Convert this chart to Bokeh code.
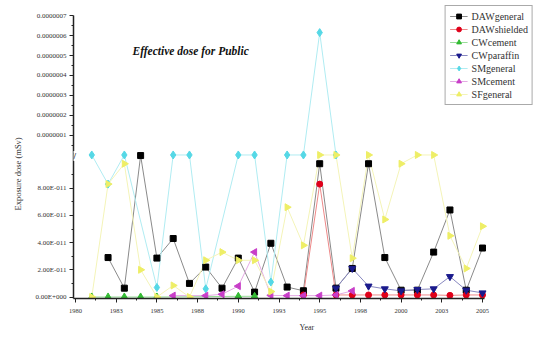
import math
from bokeh.plotting import figure
from bokeh.models import (Range1d, FixedTicker, Legend, LegendItem, Label, Title,
                          CustomJSTickFormatter)
from bokeh.embed import file_html
from bokeh.resources import INLINE

GAP = 1.5e-10  # values lying inside the axis break

years_daw_general = list(range(1982, 2006))
daw_general = [2.9e-11, 0.65e-11, 1.04e-10, 2.86e-11, 4.3e-11, 1.0e-11, 2.2e-11, 0.65e-11,
               2.86e-11, 0.36e-11, 3.95e-11, 0.73e-11, 0.46e-11, 9.8e-11, 0.65e-11, 2.1e-11,
               9.8e-11, 2.9e-11, 0.5e-11, 0.5e-11, 3.3e-11, 6.4e-11, 0.5e-11, 3.6e-11]

years_daw_shielded = list(range(1994, 2006))
daw_shielded = [0.15e-11, 8.3e-11, 0.15e-11, 0.15e-11, 0.15e-11, 0.15e-11, 0.15e-11,
                0.15e-11, 0.15e-11, 0.12e-11, 0.15e-11, 0.15e-11]

years_cw_cement = [1981, 1982, 1983, 1984, 1985, 1990, 1991]
cw_cement = [0.0, 0.0, 0.0, 0.0, 0.0, 0.05e-11, 0.05e-11]

years_cw_paraffin = list(range(1996, 2006))
cw_paraffin = [0.65e-11, 2.1e-11, 0.8e-11, 0.6e-11, 0.45e-11, 0.55e-11, 0.6e-11, 1.5e-11,
               0.5e-11, 0.3e-11]

years_sm_general = [1981, 1982, 1983, 1985, 1986, 1987, 1988, 1990, 1991, 1992, 1993, 1994, 1995, 1996]
sm_general = [GAP, 8.3e-11, GAP, 0.7e-11, GAP, GAP, 0.6e-11, GAP, GAP, 1.1e-11, GAP, GAP,
              6.15e-7, GAP]

years_sm_cement = [1986, 1988, 1989, 1990, 1991, 1992, 1993, 1994, 1995, 1996, 1997]
sm_cement = [0.1e-11, 0.1e-11, 0.2e-11, 0.8e-11, 3.3e-11, 0.12e-11, 0.1e-11, 0.1e-11,
             0.1e-11, 0.15e-11, 0.45e-11]

years_sf_general = list(range(1981, 2006))
sf_general = [0.0, 8.3e-11, 9.8e-11, 2.0e-11, 0.0, 0.85e-11, 0.0, 2.7e-11, 3.3e-11, 2.7e-11,
              2.7e-11, 0.4e-11, 6.6e-11, 3.8e-11, GAP, GAP, 2.85e-11, GAP, 5.7e-11, 9.8e-11,
              GAP, GAP, 4.5e-11, 2.1e-11, 5.2e-11]

x_ticks = [1980, 1982.5, 1985, 1987.5, 1990, 1992.5, 1995, 1997.5, 2000, 2002.5, 2005]
lower_tick_values = [0, 2e-11, 4e-11, 6e-11, 8e-11]
lower_tick_labels = ["0.00E+000", "2.00E-011", "4.00E-011", "6.00E-011", "8.00E-011"]
upper_tick_values = [1e-7, 2e-7, 3e-7, 4e-7, 5e-7, 6e-7, 7e-7]
upper_tick_labels = ["0.0000001", "0.0000002", "0.0000003", "0.0000004", "0.0000005",
                     "0.0000006", "0.0000007"]

# broken-axis scale: lower segment 0..LOW_MAX, upper segment starts at the break
LOW_UNIT = 27.2      # display units per 1e-11
BREAK = 284.0        # display position of the break
UP_UNIT = 39.8       # display units per 1e-7
LOW_MAX = BREAK / LOW_UNIT * 1e-11


def to_display(v):
    if v <= LOW_MAX:
        return v / 1e-11 * LOW_UNIT
    return BREAK + v / 1e-7 * UP_UNIT


PX_PER_YEAR = 16.28
x_start = 1980 - 2 / PX_PER_YEAR
x_end = 1980 + (533 - 75) / PX_PER_YEAR

p = figure(width=539, height=338, output_backend="svg", toolbar_location=None,
           x_range=Range1d(x_start, x_end), y_range=Range1d(-3, 583),
           min_border_left=73, min_border_right=6, min_border_top=5, min_border_bottom=40)
p.outline_line_color = None
p.xgrid.visible = False
p.ygrid.visible = False

font = "Liberation Serif"

series = [
    ("DAWgeneral", years_daw_general, daw_general, "#000000", "#8a8a8a", "square", 0.0, 6),
    ("DAWshielded", years_daw_shielded, daw_shielded, "#e0001a", "#ee8888", "circle", 0.0, 6),
    ("CWcement", years_cw_cement, cw_cement, "#33bb33", "#99dd99", "triangle", 0.0, 7),
    ("CWparaffin", years_cw_paraffin, cw_paraffin, "#1a1a8c", "#8888c0", "inverted_triangle", 0.0, 7),
    ("SMgeneral", years_sm_general, sm_general, "#55d8e6", "#b0ecf2", "diamond", 0.0, 8),
    ("SMcement", years_sm_cement, sm_cement, "#c83ec8", "#e4aae4", "triangle", math.pi / 2, 7),
    ("SFgeneral", years_sf_general, sf_general, "#eeee66", "#f4f4b8", "triangle", -math.pi / 2, 7),
]

line_rs = []
for name, xs, vs, col, lcol, mk, ang, sz in series:
    ys = [to_display(v) for v in vs]
    line_rs.append(p.line(xs, ys, line_color=lcol, line_width=1))

items = []
for (name, xs, vs, col, lcol, mk, ang, sz), lr in zip(series, line_rs):
    ys = [to_display(v) for v in vs]
    sr = p.scatter(xs, ys, marker=mk, angle=ang, size=sz, fill_color=col, line_color=col)
    items.append(LegendItem(label=name, renderers=[lr, sr]))

legend = Legend(items=items, location="top_right", margin=0, padding=4, spacing=1,
                label_text_font=font, label_text_font_size="10px", glyph_width=18,
                glyph_height=12, label_height=12, label_standoff=4,
                label_text_color="#333333",
                border_line_color="#555555", border_line_width=1.5)
p.add_layout(legend)

# x axis
p.xaxis.bounds = (x_start, 2005.15)
p.xaxis.ticker = FixedTicker(ticks=x_ticks,
                             minor_ticks=[t + 1.25 for t in x_ticks[:-1]])
p.xaxis.formatter = CustomJSTickFormatter(code="return Math.round(tick).toString();")

# y axis with break
y_major = [to_display(v) for v in lower_tick_values] + [to_display(v) for v in upper_tick_values]
y_minor = [to_display(v + 1e-11) for v in lower_tick_values] + \
          [to_display(v - 0.5e-7) for v in upper_tick_values]
p.yaxis.bounds = (-3, to_display(upper_tick_values[-1]))
p.yaxis.ticker = FixedTicker(ticks=y_major, minor_ticks=y_minor)
p.yaxis.major_label_overrides = {to_display(v): s for v, s in
                                 zip(lower_tick_values + upper_tick_values,
                                     lower_tick_labels + upper_tick_labels)}

for ax in (p.xaxis[0], p.yaxis[0]):
    ax.axis_line_width = 1.5
    ax.axis_line_color = "#222222"
    ax.major_tick_in = 0
    ax.major_tick_out = 4
    ax.minor_tick_in = 0
    ax.minor_tick_out = 2
    ax.major_tick_line_color = "#222222"
    ax.minor_tick_line_color = "#222222"
    ax.major_label_text_font = font
    ax.major_label_text_color = "#333333"
    ax.major_label_standoff = 3

p.yaxis.major_label_text_font_size = "7px"
p.xaxis.major_label_text_font_size = "6.5px"
p.xaxis.major_label_standoff = 6

p.add_layout(Title(text="Exposure dose (mSv)", align="left", offset=88, standoff=20,
                   text_font=font, text_font_size="8.5px", text_font_style="normal",
                   text_color="#333333"), "left")
p.add_layout(Title(text="Year", align="left", offset=226, standoff=10,
                   text_font=font, text_font_size="8px", text_font_style="normal",
                   text_color="#333333"), "below")

# break symbol on the y axis
p.add_layout(Label(x=x_start, y=BREAK - 2, text="//", text_font=font, text_font_size="9px",
                   text_font_style="bold", text_align="center", text_baseline="middle",
                   background_fill_color="white", text_color="#222222"))

p.add_layout(Label(x=1980 + (132 - 75) / PX_PER_YEAR, y=493, text="Effective dose for Public",
                   text_font=font, text_font_size="11.5px", text_font_style="bold italic",
                   text_baseline="middle", text_color="#111111"))

open("out.html", "w").write(file_html(p, INLINE))
